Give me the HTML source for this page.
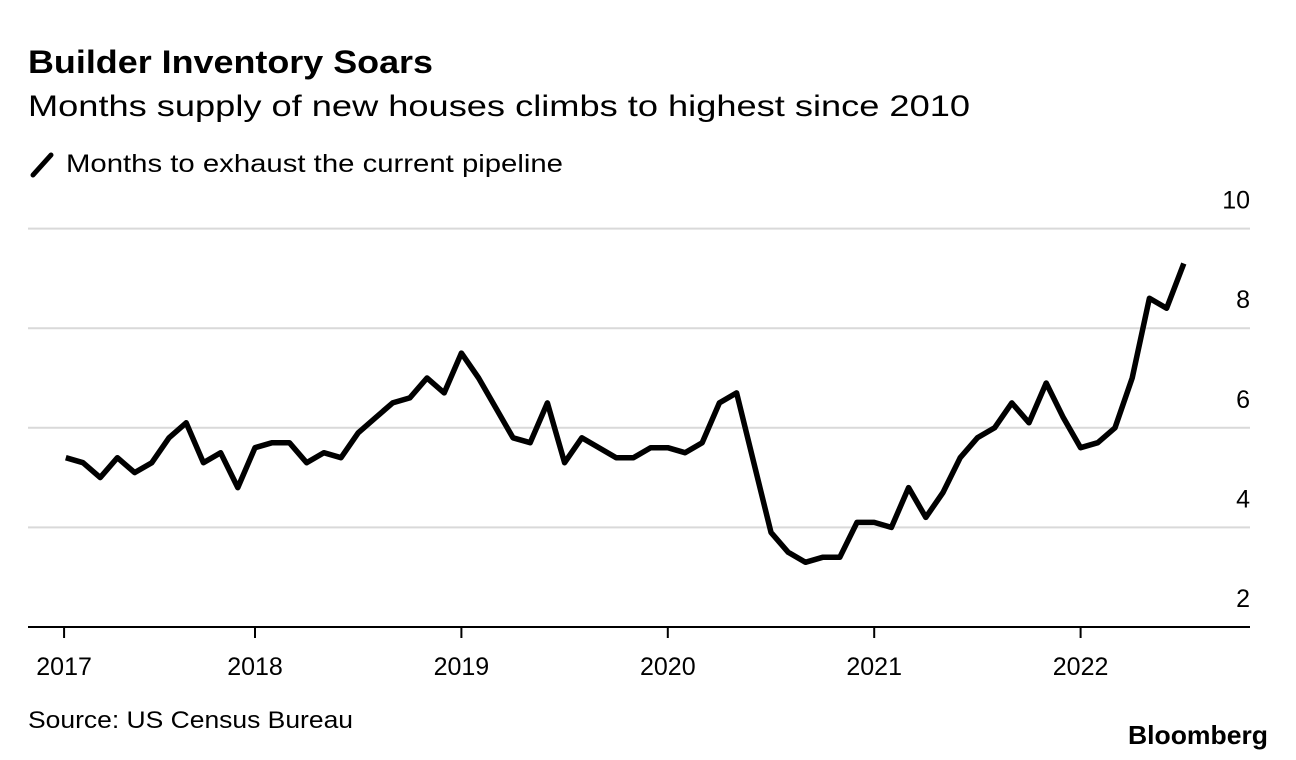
<!DOCTYPE html>
<html><head><meta charset="utf-8"><style>
body{margin:0;background:#fff;width:1296px;height:760px;overflow:hidden;font-family:"Liberation Sans",Arial,sans-serif;}
</style></head><body>
<svg width="1296" height="760" style="position:absolute;left:0;top:0">
<text x="28" y="73" font-size="32" font-weight="bold" fill="#000" textLength="405" lengthAdjust="spacingAndGlyphs">Builder Inventory Soars</text>
<text x="28" y="116" font-size="30" fill="#000" textLength="942" lengthAdjust="spacingAndGlyphs">Months supply of new houses climbs to highest since 2010</text>
<g>
<line x1="33" y1="175" x2="51" y2="155" stroke="#000" stroke-width="5" stroke-linecap="round"/>
<text x="66" y="172" font-size="25" fill="#000" textLength="497" lengthAdjust="spacingAndGlyphs">Months to exhaust the current pipeline</text>
</g>
<g id="grid"></g><g id="yl"></g><g id="xt"></g>
<path id="line" fill="none" stroke="#000" stroke-width="5.5" stroke-linejoin="round"/>
<text x="28" y="728" font-size="24" fill="#000" textLength="325" lengthAdjust="spacingAndGlyphs">Source: US Census Bureau</text>
<text x="1268" y="744" font-size="26" font-weight="bold" text-anchor="end" fill="#000" textLength="140" lengthAdjust="spacingAndGlyphs">Bloomberg</text>
</svg>
<script>
const yTicks=[2,4,6,8,10];
const xTickMonths=[0.9,12,24,36,48,60];
const xTickLabels=["2017","2018","2019","2020","2021","2022"];
const startMonth=1;
const values=[5.4,5.3,5.0,5.4,5.1,5.3,5.8,6.1,5.3,5.5,4.8,
5.6,5.7,5.7,5.3,5.5,5.4,5.9,6.2,6.5,6.6,7.0,6.7,
7.5,7.0,6.4,5.8,5.7,6.5,5.3,5.8,5.6,5.4,5.4,5.6,
5.6,5.5,5.7,6.5,6.7,5.3,3.9,3.5,3.3,3.4,3.4,4.1,
4.1,4.0,4.8,4.2,4.7,5.4,5.8,6.0,6.5,6.1,6.9,6.2,
5.6,5.7,6.0,7.0,8.6,8.4,9.3];
const NS="http://www.w3.org/2000/svg";
const y=v=>627-(v-2)*49.8;
const x=m=>255+(m-12)*17.2;
const g=document.getElementById('grid'),yl=document.getElementById('yl'),xt=document.getElementById('xt');
yTicks.forEach(t=>{
 if(t>2){const l=document.createElementNS(NS,'line');
 l.setAttribute('x1',28);l.setAttribute('x2',1250);l.setAttribute('y1',y(t));l.setAttribute('y2',y(t));
 l.setAttribute('stroke','#d9d9d9');l.setAttribute('stroke-width','2');
 
 
 g.appendChild(l);}
 const tx=document.createElementNS(NS,'text');
 tx.setAttribute('x',1250);tx.setAttribute('y',y(t)-20);tx.setAttribute('text-anchor','end');
 tx.setAttribute('font-size','25');tx.textContent=t;
 
 
 yl.appendChild(tx);
});
const base=document.createElementNS(NS,'line');
base.setAttribute('x1',28);base.setAttribute('x2',1250);base.setAttribute('y1',627);base.setAttribute('y2',627);
base.setAttribute('stroke','#000');base.setAttribute('stroke-width','2');


xt.appendChild(base);
xTickMonths.forEach((m,i)=>{
 const l=document.createElementNS(NS,'line');
 l.setAttribute('x1',x(m));l.setAttribute('x2',x(m));l.setAttribute('y1',627);l.setAttribute('y2',638);
 l.setAttribute('stroke','#000');l.setAttribute('stroke-width','2');
 
 
 xt.appendChild(l);
 const tx=document.createElementNS(NS,'text');
 tx.setAttribute('x',x(m));tx.setAttribute('y',675);tx.setAttribute('text-anchor','middle');
 tx.setAttribute('font-size','25');tx.textContent=xTickLabels[i];
 
 
 xt.appendChild(tx);
});
document.getElementById('line').setAttribute('d',values.map((v,i)=>(i?'L':'M')+x(startMonth+i).toFixed(1)+','+y(v).toFixed(1)).join(''));
</script>
</body></html>
